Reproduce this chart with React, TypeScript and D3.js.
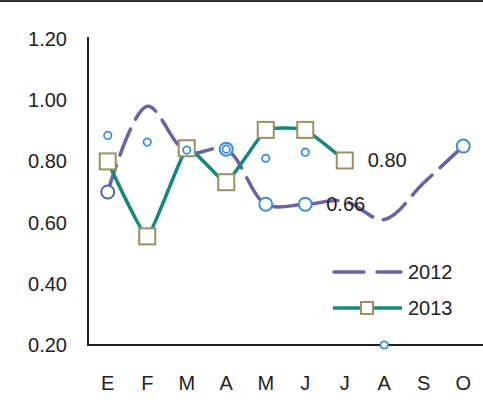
import * as d3 from "d3";

const months = ["E", "F", "M", "A", "M", "J", "J", "A", "S", "O"];
const yTicks = [0.2, 0.4, 0.6, 0.8, 1.0, 1.2];

// 2012: dashed smoothed line over every month
const values2012 = [0.7, 0.98, 0.83, 0.84, 0.66, 0.66, 0.67, 0.61, 0.73, 0.85];
// big hollow circles sitting on the 2012 line
const rings2012 = [0.7, null, null, 0.84, 0.66, 0.66, null, null, null, 0.85];
// small hollow circles (no line)
const dots = [0.885, 0.863, 0.837, 0.84, 0.81, 0.83, null, 0.2, null, null];
// 2013: teal line with square markers
const values2013 = [0.8, 0.555, 0.843, 0.732, 0.903, 0.903, 0.803, null, null, null];

const PURPLE = "#6b62a2";
const TEAL = "#16877a";
const KHAKI = "#9a9062";
const BLUE = "#3a8fe0";
const NAVY = "#4f6aab";
const TEXT = "#222";
const FONT = "'Liberation Sans', Arial, sans-serif";
const FS = 20;

const W = 483;
const H = 405;

export default function App() {
  const x = d3.scaleBand<number>().domain(d3.range(months.length)).range([88, 483]);
  const cx = (i: number) => x(i)! + x.bandwidth() / 2;
  const y = d3.scaleLinear().domain([0.2, 1.2]).range([345, 39]);

  const smooth = d3
    .line<[number, number]>()
    .x((d) => cx(d[0]))
    .y((d) => y(d[1]))
    .curve(d3.curveCatmullRom.alpha(0.5));

  // teal one is only lightly smoothed
  const soft = d3
    .line<[number, number]>()
    .x((d) => cx(d[0]))
    .y((d) => y(d[1]))
    .curve(d3.curveCardinal.tension(0.65));

  const pts2012 = values2012.map((v, i) => [i, v] as [number, number]);
  const pts2013 = values2013
    .map((v, i) => [i, v] as [number, number | null])
    .filter((d) => d[1] != null) as [number, number][];

  return (
    <svg
      width={W}
      height={H}
      style={{ position: "absolute", left: 0, top: 0, background: "#fff" }}
      fontFamily={FONT}
    >
      <line x1={0} x2={W} y1={1} y2={1} stroke="#333" strokeWidth={2} />

      {/* axes */}
      <line x1={88} x2={88} y1={37} y2={346} stroke={TEXT} strokeWidth={2} />
      <line x1={87} x2={W} y1={345} y2={345} stroke={TEXT} strokeWidth={2} />

      {yTicks.map((t) => (
        <text
          key={t}
          x={67}
          y={y(t)}
          textAnchor="end"
          dominantBaseline="central"
          fontSize={FS}
          fill={TEXT}
        >
          {t.toFixed(2)}
        </text>
      ))}
      {months.map((m, i) => (
        <text
          key={i}
          x={cx(i)}
          y={383}
          textAnchor="middle"
          dominantBaseline="central"
          fontSize={FS}
          fill={TEXT}
        >
          {m}
        </text>
      ))}

      {/* 2012 */}
      <path
        d={smooth(pts2012)!}
        fill="none"
        stroke={PURPLE}
        strokeWidth={3.5}
        strokeDasharray="28 11"
        strokeLinecap="round"
      />

      {/* 2013 */}
      <path d={soft(pts2013)!} fill="none" stroke={TEAL} strokeWidth={3.5} />
      {pts2013.map(([i, v]) => (
        <rect
          key={i}
          x={cx(i) - 8}
          y={y(v) - 8}
          width={16}
          height={16}
          fill="#fff"
          stroke={KHAKI}
          strokeWidth={2}
        />
      ))}

      {rings2012.map((v, i) =>
        v == null ? null : (
          <circle
            key={i}
            cx={cx(i)}
            cy={y(v)}
            r={6.5}
            fill="#fff"
            stroke={i === 0 ? NAVY : BLUE}
            strokeWidth={2}
          />
        ),
      )}
      {dots.map((v, i) =>
        v == null ? null : (
          <circle
            key={i}
            cx={cx(i)}
            cy={y(v)}
            r={3.7}
            fill="#fff"
            stroke={BLUE}
            strokeWidth={1.8}
          />
        ),
      )}

      {/* data labels */}
      <text x={cx(5) + 21} y={y(values2012[5])} dominantBaseline="central" fontSize={FS} fill={TEXT}>
        {values2012[5].toFixed(2)}
      </text>
      <text x={cx(6) + 23} y={y(values2013[6]!)} dominantBaseline="central" fontSize={FS} fill={TEXT}>
        {values2013[6]!.toFixed(2)}
      </text>

      {/* legend */}
      <line
        x1={334}
        x2={401}
        y1={272}
        y2={272}
        stroke={PURPLE}
        strokeWidth={3.5}
        strokeDasharray="30 13"
        strokeLinecap="round"
      />
      <text x={408} y={272} dominantBaseline="central" fontSize={FS} fill={TEXT}>
        2012
      </text>
      <line x1={333} x2={402} y1={308} y2={308} stroke={TEAL} strokeWidth={3.5} />
      <rect x={361} y={302} width={12} height={12} fill="#fff" stroke={KHAKI} strokeWidth={2} />
      <text x={408} y={308} dominantBaseline="central" fontSize={FS} fill={TEXT}>
        2013
      </text>
    </svg>
  );
}
